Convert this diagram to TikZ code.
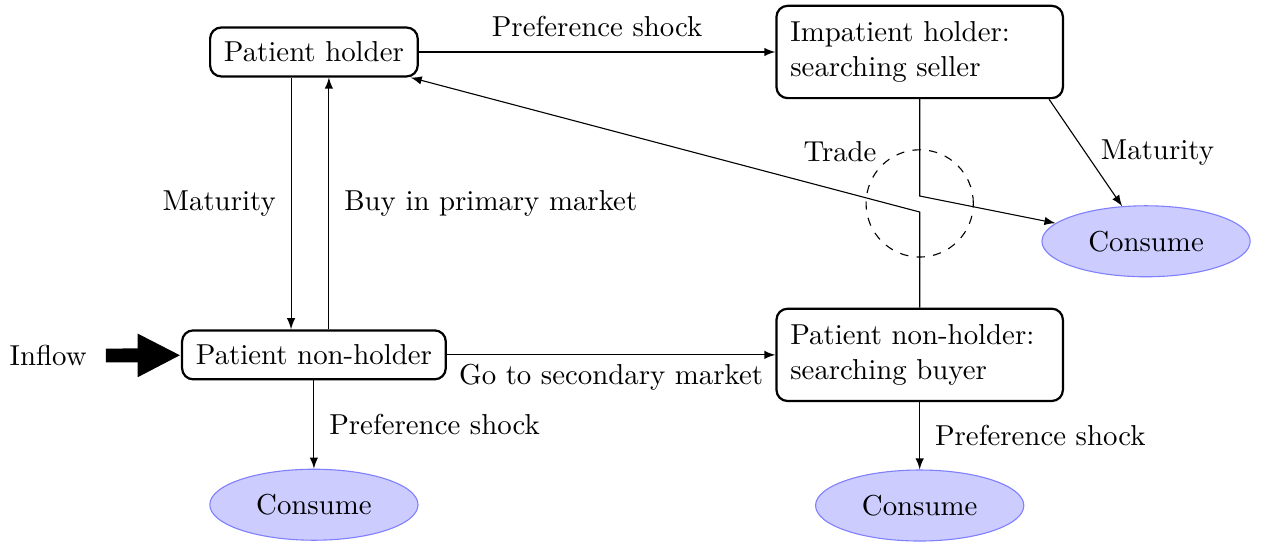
\documentclass[tikz,border=0pt]{standalone}
\usepackage{fontspec}
\usetikzlibrary{shapes,arrows.meta,positioning}

\begin{document}
\begin{tikzpicture}[node distance=1.5cm, >=latex, font=\fontsize{10.4pt}{12.6pt}\selectfont,
    state/.style={rectangle, rounded corners, draw, thick, inner xsep=5pt, minimum height=0.62cm},
    search/.style={state, align=left, text width=3.28cm, minimum height=1.17cm},
    sink/.style={ellipse, draw=blue!50, fill=blue!20, minimum width=2.64cm, minimum height=0.9cm}]
    \useasboundingbox (0,0) rectangle (16,6.859);

    \node (holder) [state] at (3.98,6.20) {Patient holder};
    \node (impatient) [search, right of=holder, xshift=6.18cm] {Impatient holder:\\searching seller};
    \node (nonholder) [state, below of=holder, yshift=-2.34cm] {Patient non-holder};
    \node (buyer) [search, right of=nonholder, xshift=6.18cm] {Patient non-holder:\\searching buyer};
    \node (consumeL) [sink, below of=nonholder, yshift=-0.40cm] {Consume};
    \node (consumeB) [sink, below of=buyer, yshift=-0.41cm] {Consume};
    \node (consumeR) [sink] at (14.53,3.80) {Consume};
    \node (inflow) at (0.61,2.35) {Inflow};

    % trade between seller and buyer
    \node (trade) [circle, draw, dashed, minimum size=1.36cm] at (11.66,4.28) {};
    \node (tradelabel) at (10.65,4.93) {Trade};
    \coordinate (tradetop) at (11.66,4.374);
    \coordinate (tradebot) at (11.66,4.171);

    \draw [->] (holder) -- node[above, yshift=2pt] {Preference shock} (impatient);
    \draw [->] ([xshift=-0.19cm]impatient.south east) -- node[right, xshift=2pt] {Maturity} (consumeR);
    \draw [->] (impatient.south) -- (tradetop) -- (consumeR);
    \draw [->] (buyer.north) -- (tradebot) -- (holder);
    \draw [->] ([xshift=-0.29cm]holder.south) -- node[left, xshift=-2pt] {Maturity} ([xshift=-0.29cm]nonholder.north);
    \draw [->] ([xshift=0.19cm]nonholder.north) -- node[right, xshift=2pt] {Buy in primary market} ([xshift=0.19cm]holder.south);
    \draw [->] (nonholder) -- node[below] {Go to secondary market} (buyer);
    \draw [->] (nonholder) -- node[right, xshift=2pt] {Preference shock} (consumeL);
    \draw [->] (buyer) -- node[right, xshift=2pt] {Preference shock} (consumeB);
    \draw [line width=5pt, -{Triangle[length=0.55cm, width=0.51cm]}, shorten <=0.12cm] (inflow) -- (nonholder);
\end{tikzpicture}
\end{document}
